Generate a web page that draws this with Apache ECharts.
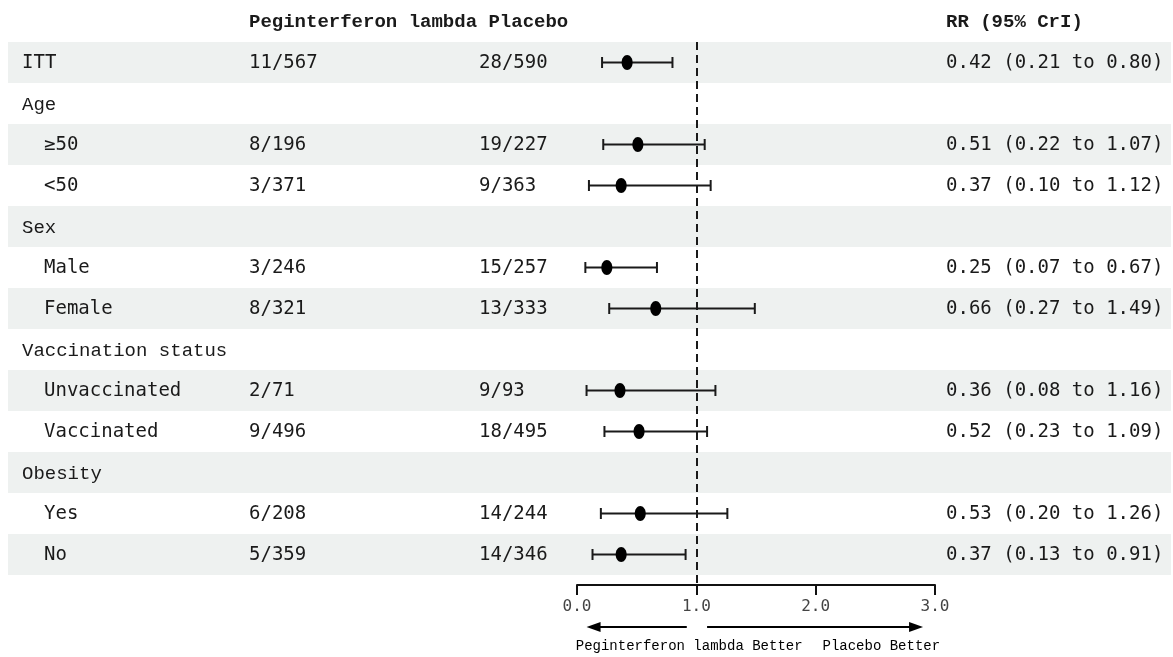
<!DOCTYPE html>
<html>
<head>
<meta charset="utf-8">
<script src="https://cdn.jsdelivr.net/npm/echarts@6/dist/echarts.min.js"></script>
<style>
  html, body { margin: 0; padding: 0; background: #ffffff; }
  #chart { width: 1173px; height: 657px; }
</style>
</head>
<body>
<div id="chart"></div>
<script>
// Subgroup rows of the forest plot (top to bottom)
const rowLabels = ['ITT', 'Age', '≥50', '<50', 'Sex', 'Male', 'Female',
  'Vaccination status', 'Unvaccinated', 'Vaccinated', 'Obesity', 'Yes', 'No'];
// 0 = group heading, 1 = subgroup nested under the heading above
const rowLevel = [0, 0, 1, 1, 0, 1, 1, 0, 1, 1, 0, 1, 1];

// Events / participants per arm
const pegEvents    = [11, null, 8, 3, null, 3, 8, null, 2, 9, null, 6, 5];
const pegTotal     = [567, null, 196, 371, null, 246, 321, null, 71, 496, null, 208, 359];
const placeboEvents = [28, null, 19, 9, null, 15, 13, null, 9, 18, null, 14, 14];
const placeboTotal  = [590, null, 227, 363, null, 257, 333, null, 93, 495, null, 244, 346];

// Relative risk with 95% credible interval
const rrEstimate = [0.42, null, 0.51, 0.37, null, 0.25, 0.66, null, 0.36, 0.52, null, 0.53, 0.37];
const rrLower    = [0.21, null, 0.22, 0.10, null, 0.07, 0.27, null, 0.08, 0.23, null, 0.20, 0.13];
const rrUpper    = [0.80, null, 1.07, 1.12, null, 0.67, 1.49, null, 1.16, 1.09, null, 1.26, 0.91];

// Column headings and axis text
const headerArms = 'Peginterferon lambda Placebo';
const headerRR = 'RR (95% CrI)';
const axisMin = 0, axisMax = 3, axisStep = 1;
const nullEffect = 1;
const directionLabels = ['Peginterferon lambda Better', 'Placebo Better'];

const ink = '#1a1a1a';
const stripe = '#eef1f0';
const monoData = '"DejaVu Sans Mono", "Liberation Mono", monospace';
const monoLabel = '"Liberation Mono", "DejaVu Sans Mono", monospace';

const f2 = v => v.toFixed(2);
const countText = (e, n) => e == null ? '' : e + '/' + n;
const rrText = rrEstimate.map((v, i) =>
  v == null ? '' : f2(v) + ' (' + f2(rrLower[i]) + ' to ' + f2(rrUpper[i]) + ')');

// Table grid: header row + one row per subgroup
const tableRows = ['header'].concat(rowLabels);
const tableData = tableRows.map((_, i) => [0, i]);

// Plot grid: one point per row that carries an estimate
const forestData = [];
rrEstimate.forEach((v, i) => {
  if (v != null) forestData.push([i, v, rrLower[i], rrUpper[i]]);
});

const colX = { label: 22, indent: 22, peg: 249, placebo: 479, rr: 946 };
const rowsBelowPad = 10 / 41;

function textEl(text, x, y, opts) {
  return {
    type: 'text',
    style: Object.assign({
      text: text, x: x, y: y + 1,
      fill: ink, fontSize: 19, fontFamily: monoData,
      align: 'left', verticalAlign: 'middle'
    }, opts || {})
  };
}

function renderTableRow(params, api) {
  const idx = api.value(1);
  const y = api.coord([0, idx])[1];
  const children = [];
  if (idx === 0) {
    const bold = { fontWeight: 'bold', fontFamily: monoLabel };
    children.push(textEl(headerArms, colX.peg, y, bold));
    children.push(textEl(headerRR, colX.rr, y, bold));
  } else {
    const i = idx - 1;
    children.push(textEl(rowLabels[i], colX.label + rowLevel[i] * colX.indent, y,
      rowLevel[i] === 0 && rrEstimate[i] == null ? { fontFamily: monoLabel } : {}));
    children.push(textEl(countText(pegEvents[i], pegTotal[i]), colX.peg, y));
    children.push(textEl(countText(placeboEvents[i], placeboTotal[i]), colX.placebo, y));
    children.push(textEl(rrText[i], colX.rr, y));
  }
  return { type: 'group', children: children };
}

function renderForest(params, api) {
  const row = api.value(0);
  const est = api.coord([api.value(1), row]);
  const lo = api.coord([api.value(2), row]);
  const hi = api.coord([api.value(3), row]);
  const y = est[1];
  const cap = 5.5;
  const line = { stroke: ink, lineWidth: 2 };
  return {
    type: 'group',
    children: [
      { type: 'line', shape: { x1: lo[0], y1: y, x2: hi[0], y2: y }, style: line },
      { type: 'line', shape: { x1: lo[0], y1: y - cap, x2: lo[0], y2: y + cap }, style: line },
      { type: 'line', shape: { x1: hi[0], y1: y - cap, x2: hi[0], y2: y + cap }, style: line },
      { type: 'ellipse', shape: { cx: est[0], cy: y, rx: 5.5, ry: 7.5 }, style: { fill: '#000' } }
    ]
  };
}

const chart = echarts.init(document.getElementById('chart'), null, { renderer: 'canvas' });

chart.setOption({
  animation: false,
  backgroundColor: '#ffffff',
  grid: [
    { left: 8, right: 2, top: 1, height: 574 },
    { left: 577, right: 238, top: 42, height: 543 }
  ],
  xAxis: [
    { gridIndex: 0, type: 'value', min: 0, max: 1, show: false },
    {
      gridIndex: 1, type: 'value', min: axisMin, max: axisMax, interval: axisStep,
      position: 'bottom',
      axisLine: { show: true, onZero: false, lineStyle: { color: '#111', width: 2 } },
      axisTick: { show: true, length: 10, lineStyle: { color: '#111', width: 2 } },
      axisLabel: {
        formatter: v => v.toFixed(1), margin: 14,
        fontFamily: monoData, fontSize: 16, color: '#444'
      },
      splitLine: { show: false }
    }
  ],
  yAxis: [
    {
      gridIndex: 0, type: 'category', data: tableRows, inverse: true,
      axisLine: { show: false }, axisTick: { show: false }, axisLabel: { show: false },
      splitLine: { show: false },
      splitArea: { show: true, areaStyle: { color: ['rgba(255,255,255,0)', stripe] } }
    },
    {
      gridIndex: 1, type: 'value', inverse: true,
      min: -0.5, max: rowLabels.length - 0.5 + rowsBelowPad,
      show: false, splitLine: { show: false }
    }
  ],
  series: [
    {
      type: 'custom', xAxisIndex: 0, yAxisIndex: 0,
      data: tableData, encode: { x: 0, y: 1 },
      renderItem: renderTableRow, silent: true, z: 3
    },
    {
      type: 'custom', xAxisIndex: 1, yAxisIndex: 1,
      data: forestData, encode: { x: [1, 2, 3], y: 0 },
      renderItem: renderForest, silent: true, z: 5,
      markLine: {
        silent: true, symbol: ['none', 'none'],
        label: { show: false },
        lineStyle: { type: [8, 5], color: ink, width: 2 },
        data: [{ xAxis: nullEffect }]
      }
    }
  ]
});

// Direction arrows and captions under the axis
const px = v => chart.convertToPixel({ xAxisIndex: 1 }, v);
const axisY = chart.convertToPixel({ yAxisIndex: 1 }, rowLabels.length - 0.5 + rowsBelowPad);
const arrowY = axisY + 42;
const textY = axisY + 61;
const head = 14, halfW = 5;

function arrow(fromV, toV) {
  const x0 = px(fromV), x1 = px(toV);
  const dir = x1 > x0 ? 1 : -1;
  return [
    { type: 'line', shape: { x1: x0, y1: arrowY, x2: x1 - dir * head * 0.6, y2: arrowY },
      style: { stroke: '#000', lineWidth: 2 } },
    { type: 'polygon',
      shape: { points: [[x1, arrowY], [x1 - dir * head, arrowY - halfW], [x1 - dir * head, arrowY + halfW]] },
      style: { fill: '#000' } }
  ];
}

chart.setOption({
  graphic: [].concat(
    arrow(0.92, 0.08),
    arrow(1.09, 2.9),
    [
      { type: 'text', style: { text: directionLabels[0], x: px(0.94), y: textY,
        align: 'center', verticalAlign: 'middle', fill: '#000',
        fontSize: 14, fontFamily: monoLabel } },
      { type: 'text', style: { text: directionLabels[1], x: px(2.55), y: textY,
        align: 'center', verticalAlign: 'middle', fill: '#000',
        fontSize: 14, fontFamily: monoLabel } }
    ]
  )
});
</script>
</body>
</html>
